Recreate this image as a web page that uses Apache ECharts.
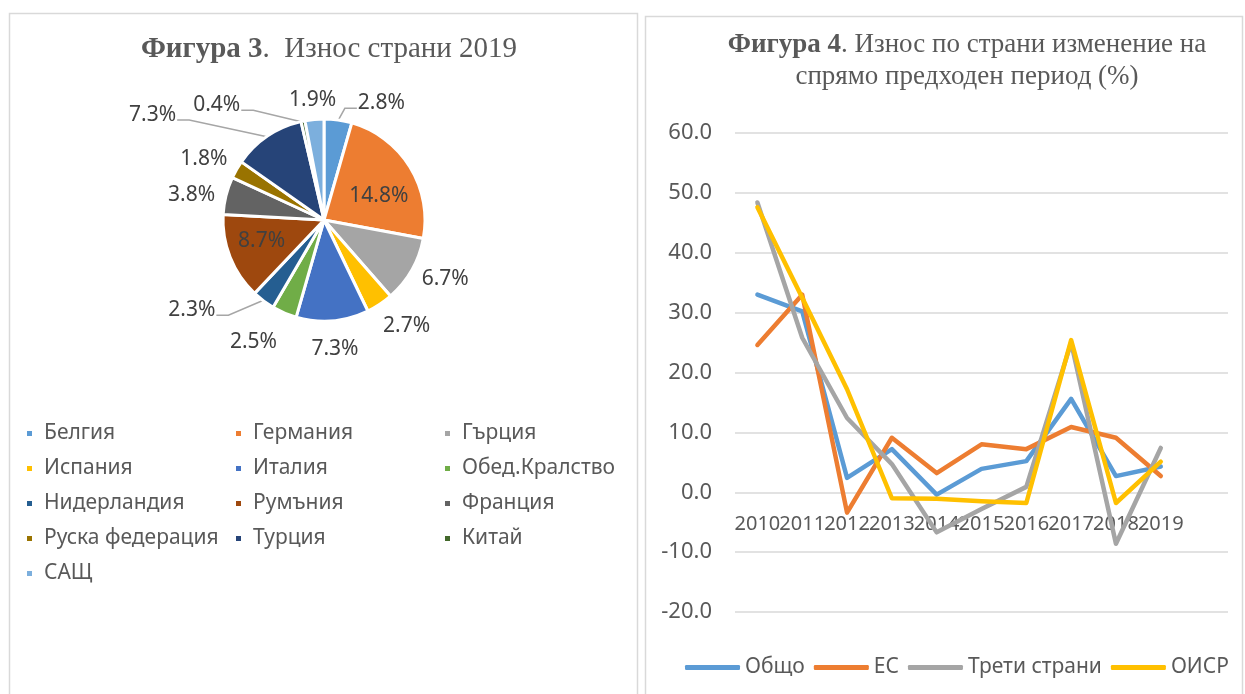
<!DOCTYPE html>
<html>
<head>
<meta charset="utf-8">
<script src="https://cdn.jsdelivr.net/npm/echarts@6/dist/echarts.min.js"></script>
<style>html,body{margin:0;padding:0;background:#fff}#c{width:1245px;height:694px}</style>
</head>
<body>
<div id="c"></div>
<script>
// ---- Data: Figure 3 (pie) ----
const countries = ['Белгия','Германия','Гърция','Испания','Италия','Обед.Кралство','Нидерландия','Румъния','Франция','Руска федерация','Турция','Китай','САЩ'];
const shares = [2.8, 14.8, 6.7, 2.7, 7.3, 2.5, 2.3, 8.7, 3.8, 1.8, 7.3, 0.4, 1.9];

// ---- Data: Figure 4 (lines) ----
const years = ['2010','2011','2012','2013','2014','2015','2016','2017','2018','2019'];
const seriesNames = ['Общо','ЕС','Трети страни','ОИСР'];
const total = [33.0, 30.2, 2.4, 7.2, -0.4, 3.9, 5.2, 15.6, 2.7, 4.3];
const eu = [24.6, 33.0, -3.4, 9.1, 3.2, 8.0, 7.2, 10.9, 9.1, 2.7];
const thirdCountries = [48.4, 25.8, 12.4, 4.7, -6.7, -2.8, 0.9, 25.0, -8.6, 7.4];
const oecd = [47.6, 32.5, 17.2, -1.0, -1.1, -1.5, -1.8, 25.4, -1.8, 5.1];
const yTicks = { min: -20, max: 60, step: 10 };

// ---- Styles ----
const pieColors = ['#5B9BD5','#ED7D31','#A5A5A5','#FFC000','#4472C4','#70AD47','#255E91','#9E480E','#636363','#997300','#264478','#43682B','#7CAFDD'];
const lineColors = ['#5B9BD5','#ED7D31','#A5A5A5','#FFC000'];
const sans = '"Noto Sans", sans-serif';
const serif = '"Liberation Serif", "Times New Roman", serif';
const txt = '#595959';
const pieCenter = [324, 220];
const pieR = 101;
const gridBox = { left: 735, right: 17, top: 133, bottom: 82 };
// label placement tweaks (Excel "best fit" imitation): angle in degrees clockwise from top, dist/pad in px
const insideLabel = new Set(['Германия','Румъния']);
const labelTweak = {
  'Германия': { angle: 66, dist: 60 },
  'Румъния': { angle: 251, dist: 66 },
  'Гърция': { angle: 116 },
  'Испания': { angle: 142, pad: 3 },
  'Италия': { pad: 9 },
  'Обед.Кралство': { angle: 210, pad: 12 },
  'Франция': { angle: 280.5 },
  'Руска федерация': { angle: 297 },
  'Белгия': { angle: 26.2, dist: 130, leader: true },
  'Нидерландия': { angle: 235.7, dist: 160, leader: true },
  'Турция': { angle: 301.5, dist: 201, leader: true },
  'Китай': { angle: 316.9, dist: 157, leader: true }
};

// mid angle of every slice (radians, clockwise from 12 o'clock), from the data
const shareSum = shares.reduce((a, b) => a + b, 0);
const midAngle = [];
(function () { let acc = 0; shares.forEach(v => { midAngle.push((acc + v / 2) / shareSum * 2 * Math.PI); acc += v; }); })();

const pieData = shares.map((v, i) => {
  const d = { value: v, name: countries[i] };
  if (insideLabel.has(countries[i])) d.label = { position: 'inside' };
  const t = labelTweak[countries[i]];
  if (t && t.leader) d.labelLine = { show: true };
  return d;
});

function pieLabelLayout(p) {
  const i = p.dataIndex;
  const name = countries[i];
  const t = labelTweak[name] || {};
  const w = p.labelRect.width, h = p.labelRect.height;
  const a = t.angle != null ? t.angle * Math.PI / 180 : midAngle[i];
  const ux = Math.sin(a), uy = -Math.cos(a);
  let d;
  if (t.dist != null) d = t.dist;
  else if (insideLabel.has(name)) d = pieR * 0.6;
  else d = pieR + 9 + (t.pad || 0) + (w / 2) * Math.abs(ux) + (h / 2 - 2) * Math.abs(uy);
  const x = pieCenter[0] + d * ux, y = pieCenter[1] + d * uy;
  const out = { x: x, y: y, align: 'center', verticalAlign: 'middle' };
  if (t.leader) {
    const m = midAngle[i];
    const ex = pieCenter[0] + (pieR - 1) * Math.sin(m), ey = pieCenter[1] - (pieR - 1) * Math.cos(m);
    const side = x > pieCenter[0] ? -1 : 1;
    const lx = x + side * (w / 2 + 1), ly = y + 5;
    out.labelLinePoints = [[ex, ey], [lx + side * 12, ly], [lx, ly]];
  }
  return out;
}

// put the category axis on the zero line (Excel style)
const gridH = 694 - gridBox.top - gridBox.bottom;
const zeroOffset = -gridH * (0 - yTicks.min) / (yTicks.max - yTicks.min);

const lineData = [total, eu, thirdCountries, oecd];

const chart = echarts.init(document.getElementById('c'), null, { renderer: 'canvas' });
chart.setOption({
  animation: false,
  backgroundColor: '#fff',
  graphic: [
    { type: 'rect', shape: { x: 9.5, y: 13.5, width: 628, height: 720 }, style: { fill: 'none', stroke: '#d9d9d9', lineWidth: 1.5 }, silent: true },
    { type: 'rect', shape: { x: 645.5, y: 16.5, width: 597, height: 720 }, style: { fill: 'none', stroke: '#d9d9d9', lineWidth: 1.5 }, silent: true }
  ],
  title: [
    {
      text: '{b|Фигура 3}{n|.  Износ страни 2019}',
      left: 324, top: 30, textAlign: 'center',
      textStyle: { rich: {
        b: { fontFamily: serif, fontSize: 29, fontWeight: 'bold', color: txt },
        n: { fontFamily: serif, fontSize: 29, fontWeight: 'normal', color: txt }
      } }
    },
    {
      text: '{b|Фигура 4}{n|. Износ по страни изменение на}\n{n|спрямо предходен период (%)}',
      left: 962, top: 24, textAlign: 'center',
      textStyle: { rich: {
        b: { fontFamily: serif, fontSize: 27, fontWeight: 'bold', color: txt, lineHeight: 32 },
        n: { fontFamily: serif, fontSize: 27, fontWeight: 'normal', color: txt, lineHeight: 32 }
      } }
    }
  ],
  legend: [
    {
      data: countries,
      left: 20, top: 416, width: 640,
      orient: 'horizontal',
      icon: 'rect', itemWidth: 7, itemHeight: 7, itemGap: 10,
      textStyle: { fontFamily: sans, fontSize: 21, color: txt, width: 180, lineHeight: 25, padding: [0, 0, 0, 6] }
    },
    {
      data: seriesNames,
      left: 685, top: 657, width: 600, padding: 0,
      icon: 'roundRect', itemWidth: 55, itemHeight: 5, itemGap: 9,
      textStyle: { fontFamily: sans, fontSize: 21, color: txt }
    }
  ],
  grid: { left: gridBox.left, right: gridBox.right, top: gridBox.top, bottom: gridBox.bottom, containLabel: false },
  xAxis: {
    type: 'category',
    data: years.concat(['']),
    boundaryGap: true,
    position: 'bottom',
    offset: zeroOffset,
    axisLine: { show: false, onZero: false },
    axisTick: { show: false },
    axisLabel: { interval: 0, margin: 22, fontFamily: sans, fontSize: 20, color: txt, hideOverlap: false },
    splitLine: { show: false }
  },
  yAxis: {
    type: 'value',
    min: yTicks.min, max: yTicks.max, interval: yTicks.step,
    axisLine: { show: false },
    axisTick: { show: false },
    axisLabel: { margin: 23, fontFamily: sans, fontSize: 22, color: txt, formatter: v => v.toFixed(1) },
    splitLine: { lineStyle: { color: '#d9d9d9', width: 1.5 } }
  },
  series: [
    {
      type: 'pie',
      center: pieCenter,
      radius: pieR,
      startAngle: 90,
      clockwise: true,
      avoidLabelOverlap: false,
      color: pieColors,
      itemStyle: { borderColor: '#fff', borderWidth: 3 },
      label: {
        show: true,
        position: 'outside',
        formatter: p => p.value.toFixed(1) + '%',
        fontFamily: sans, fontSize: 21, color: '#404040'
      },
      labelLine: { show: false, length: 8, length2: 4, lineStyle: { color: '#a6a6a6', width: 1.5 } },
      labelLayout: pieLabelLayout,
      emphasis: { disabled: true },
      data: pieData
    }
  ].concat(lineData.map((d, i) => ({
    type: 'line',
    name: seriesNames[i],
    data: d,
    symbol: 'none',
    color: lineColors[i],
    lineStyle: { width: 4.5, color: lineColors[i], cap: 'round', join: 'round' },
    emphasis: { disabled: true }
  })))
});
</script>
</body>
</html>
